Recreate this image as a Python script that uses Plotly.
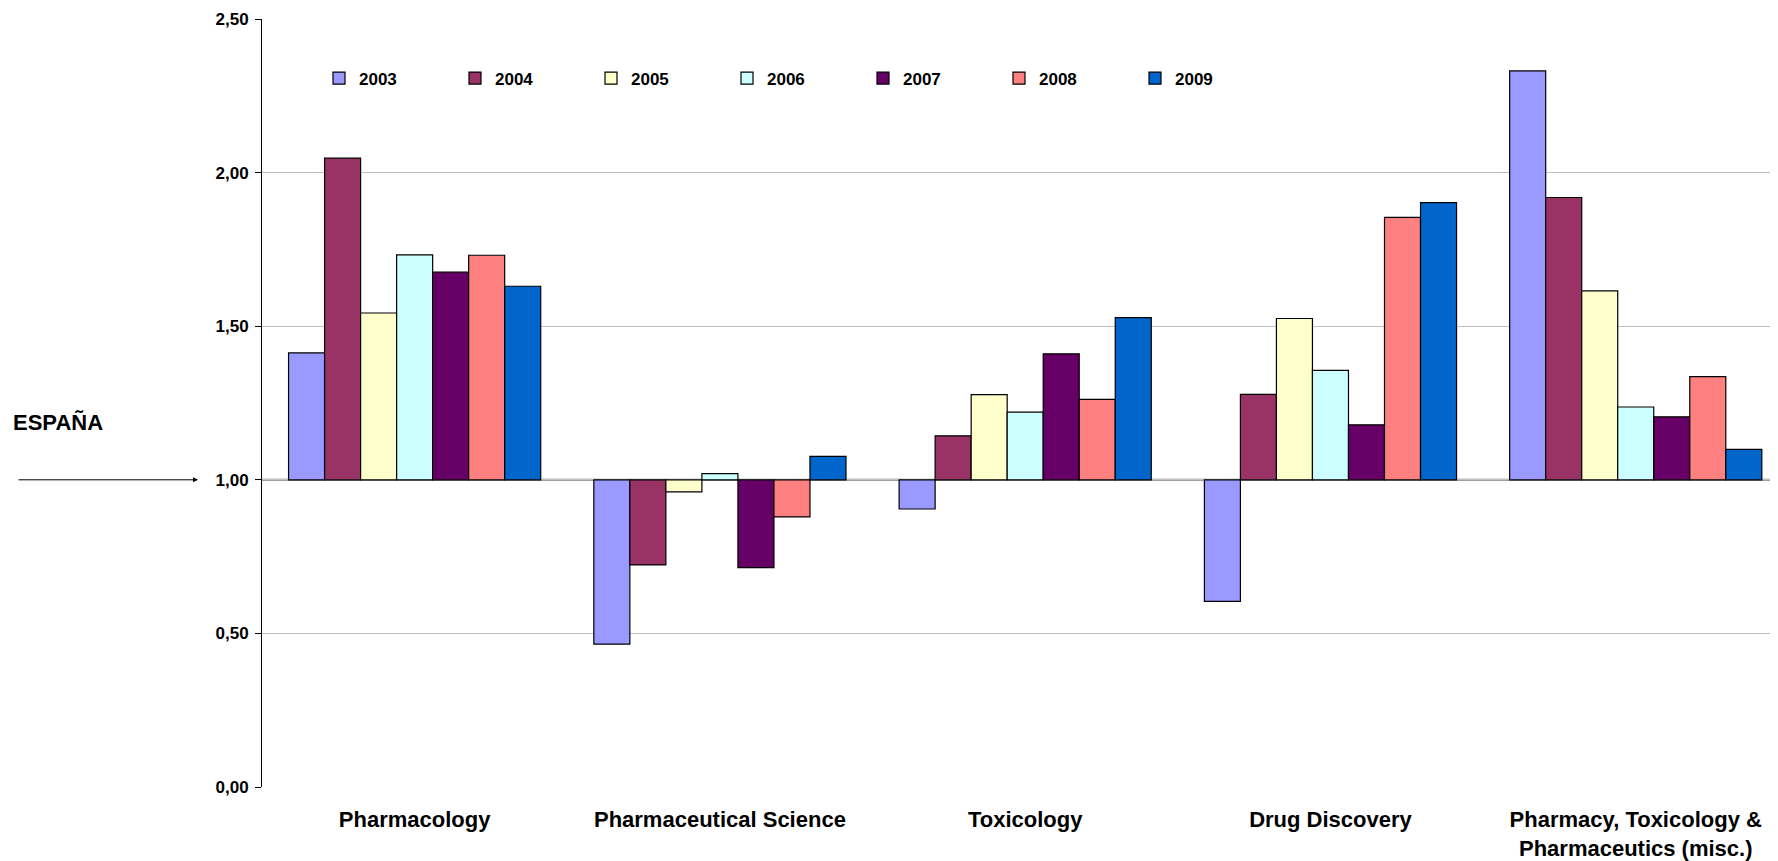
import plotly.graph_objects as go

categories = ["Pharmacology", "Pharmaceutical Science", "Toxicology", "Drug Discovery",
              "Pharmacy, Toxicology &amp;<br>Pharmaceutics (misc.)"]
years = ["2003", "2004", "2005", "2006", "2007", "2008", "2009"]

v2003 = [1.413, 0.465, 0.905, 0.604, 2.331]
v2004 = [2.047, 0.723, 1.143, 1.278, 1.919]
v2005 = [1.543, 0.961, 1.277, 1.525, 1.615]
v2006 = [1.732, 1.020, 1.220, 1.356, 1.237]
v2007 = [1.676, 0.714, 1.410, 1.179, 1.205]
v2008 = [1.731, 0.879, 1.262, 1.854, 1.336]
v2009 = [1.630, 1.076, 1.528, 1.902, 1.099]
series = [v2003, v2004, v2005, v2006, v2007, v2008, v2009]

colors = ["#9999FF", "#993366", "#FFFFCC", "#CCFFFF", "#660066", "#FF8080", "#0066CC"]
baseline = 1.0
y_ticks = [0, 0.5, 1.0, 1.5, 2.0, 2.5]

FONT = "Liberation Sans, Arial, sans-serif"

fig = go.Figure()
for yr, vals, col in zip(years, series, colors):
    fig.add_trace(go.Bar(
        name=yr, x=categories, y=[v - baseline for v in vals], base=baseline,
        marker=dict(color=col, line=dict(color="black", width=1.2)),
        customdata=vals, hovertemplate="%{x}: %{customdata:.2f}<extra>" + yr + "</extra>",
    ))

# page body has an 8px default margin, so the figure is sized to fit the window
W, H = 1770, 853
L, T, B = 254, 11, 74
PW = W - L

fig.update_layout(
    width=W, height=H,
    margin=dict(l=L, r=0, t=T, b=B),
    paper_bgcolor="white", plot_bgcolor="white",
    separators=",.",
    font=dict(family=FONT, size=17, color="black", weight="bold"),
    barmode="group", bargap=0.174, bargroupgap=0,
    legend=dict(orientation="h", x=(311 - L) / PW, xanchor="left", y=0.9225, yanchor="middle",
                font=dict(size=17, family=FONT, weight="bold"),
                entrywidth=91, entrywidthmode="pixels",
                itemwidth=30, bgcolor="rgba(0,0,0,0)", tracegroupgap=0),
    xaxis=dict(type="category", range=[-0.5, 4.466], showgrid=False, showline=False,
               zeroline=False, ticks="", tickfont=dict(size=22, family=FONT, weight="bold"),
               ticklabelstandoff=17),
    yaxis=dict(range=[0, 2.5], tickvals=y_ticks, tickformat=".2f", showgrid=True,
               gridcolor="#c0c0c0", gridwidth=1, zeroline=False, showline=True,
               linecolor="black", linewidth=1, ticks="outside", ticklen=6,
               tickcolor="black", tickfont=dict(size=17, family=FONT, weight="bold"),
               ticklabelstandoff=3),
    shapes=[dict(type="line", xref="paper", x0=0, x1=1, yref="y", y0=baseline, y1=baseline,
                 line=dict(color="#808080", width=2), layer="below")],
    annotations=[
        dict(text="", xref="paper", yref="y", x=(190 - L) / PW, y=baseline, ax=-181, ay=0,
             showarrow=True, arrowhead=2, arrowsize=1, arrowwidth=1, arrowcolor="black"),
        dict(text="ESPAÑA", xref="paper", yref="y", x=(2.5 - L) / PW, y=1.187, xanchor="left",
             yanchor="middle", showarrow=False,
             font=dict(size=22, family=FONT, weight="bold", color="black")),
    ],
)

fig.write_html("out.html")
